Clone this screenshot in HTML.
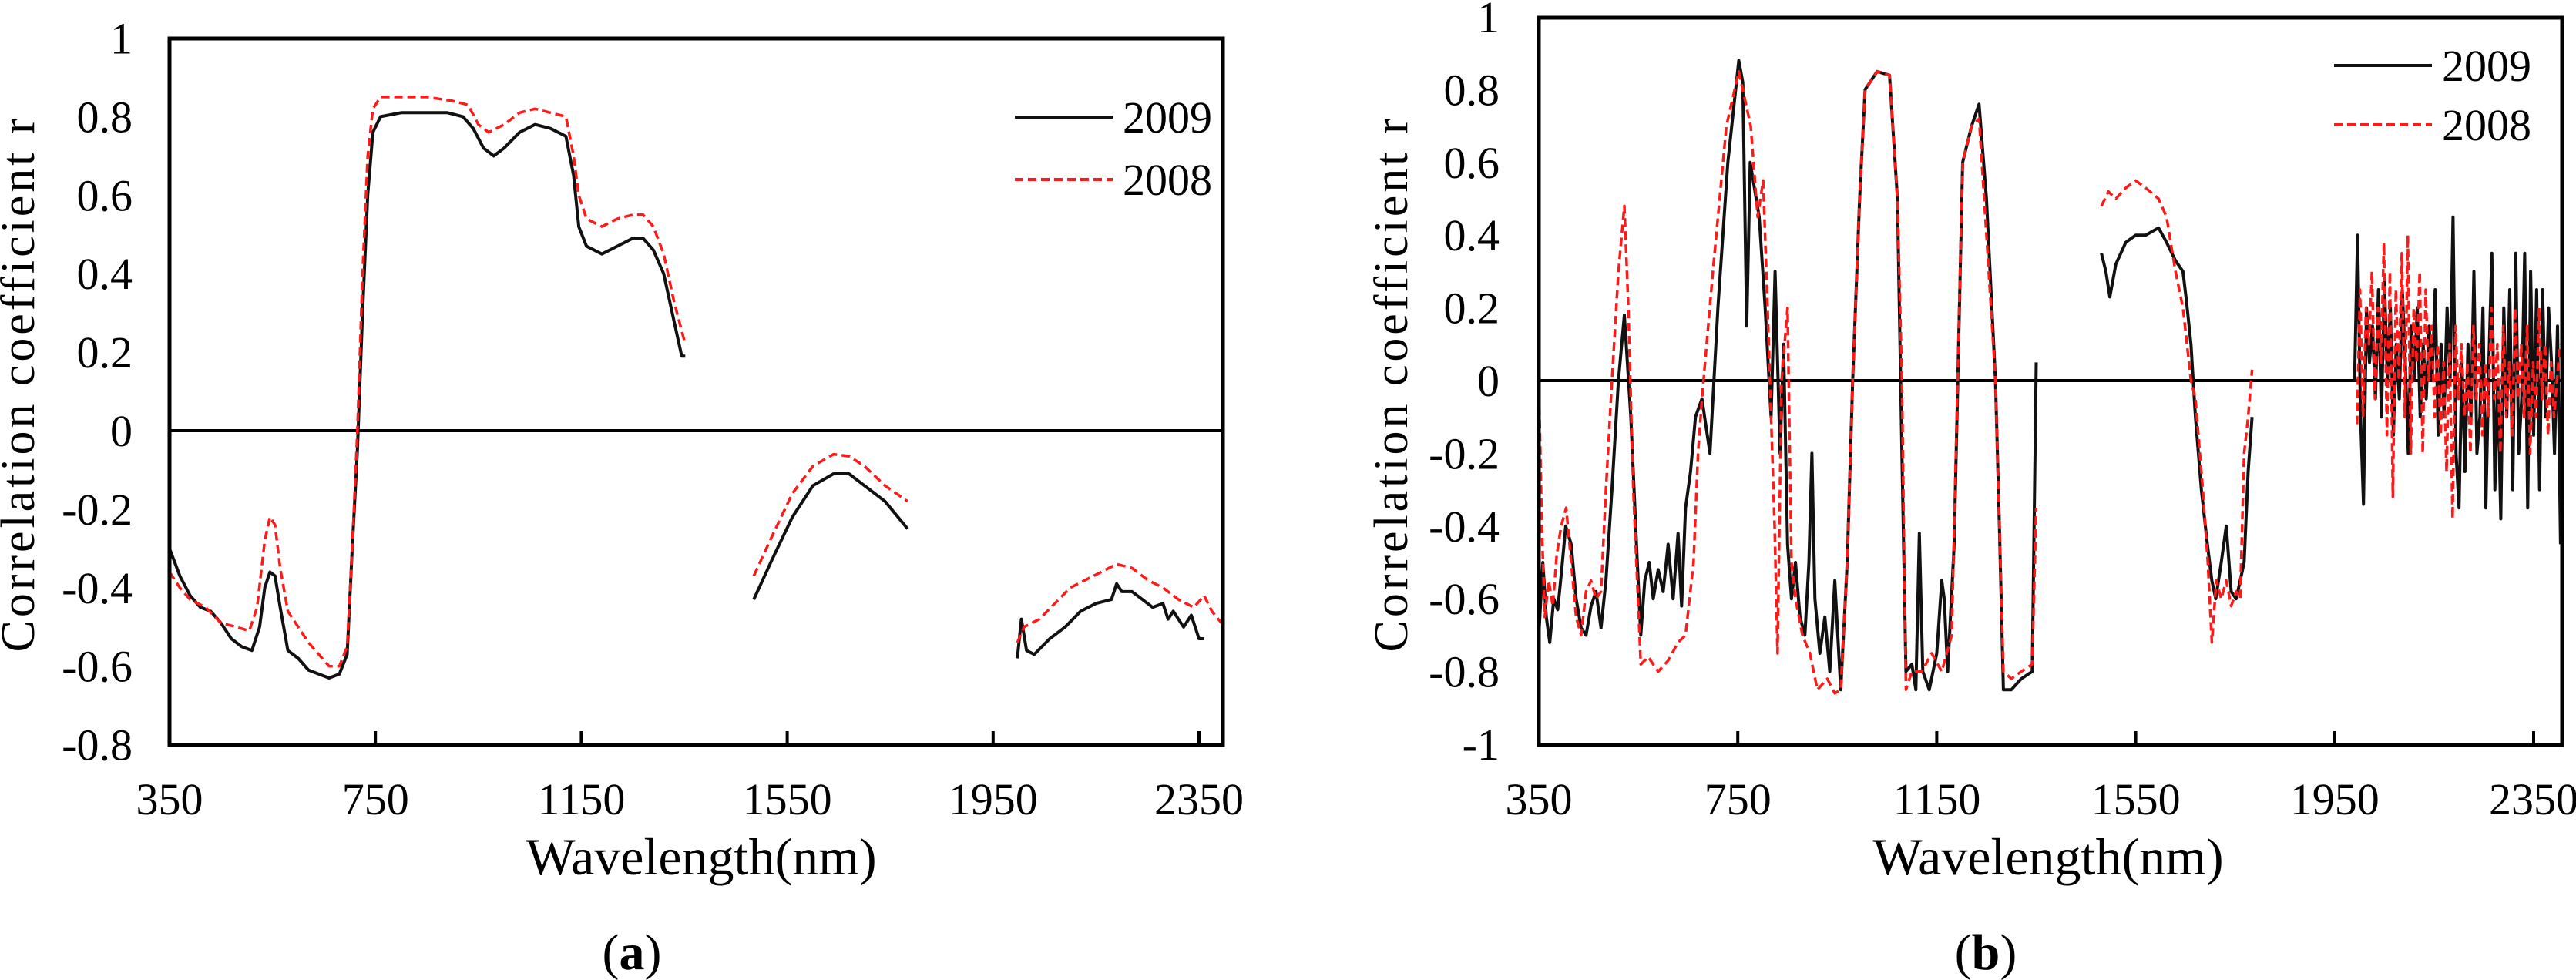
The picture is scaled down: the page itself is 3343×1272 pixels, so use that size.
<!DOCTYPE html>
<html><head><meta charset="utf-8"><style>
html,body{margin:0;padding:0;background:#fff}
svg{display:block}
svg text{font-family:"Liberation Serif","DejaVu Serif",serif;fill:#000}
</style></head><body>
<svg id="chart" width="3343" height="1272" viewBox="0 0 3343 1272" xmlns="http://www.w3.org/2000/svg" font-family="Liberation Serif, DejaVu Serif, serif">
<g id="pa"></g>
<g id="pb"></g>
</svg>
<script>
const xTicks = [350, 750, 1150, 1550, 1950, 2350];
const yTicksA = [1, 0.8, 0.6, 0.4, 0.2, 0, -0.2, -0.4, -0.6, -0.8];
const yTickLabelsA = ["1","0.8","0.6","0.4","0.2","0","-0.2","-0.4","-0.6","-0.8"];
const yTicksB = [1, 0.8, 0.6, 0.4, 0.2, 0, -0.2, -0.4, -0.6, -0.8, -1];
const yTickLabelsB = ["1","0.8","0.6","0.4","0.2","0","-0.2","-0.4","-0.6","-0.8","-1"];
const seriesNames = ["2009", "2008"];

const a09s1w = [350,370,390,410,430,450,470,490,510,525,535,545,555,565,580,600,620,640,660,680,695,705,715,725,735,745,760,800,850,890,920,940,960,980,1000,1030,1060,1090,1120,1135,1145,1160,1190,1220,1250,1270,1290,1310,1330,1345,1352];
const a09s1r = [-0.30,-0.37,-0.42,-0.45,-0.46,-0.49,-0.53,-0.55,-0.56,-0.50,-0.40,-0.36,-0.37,-0.45,-0.56,-0.58,-0.61,-0.62,-0.63,-0.62,-0.57,-0.30,-0.05,0.30,0.60,0.76,0.80,0.81,0.81,0.81,0.80,0.77,0.72,0.70,0.72,0.76,0.78,0.77,0.75,0.65,0.52,0.47,0.45,0.47,0.49,0.49,0.46,0.40,0.28,0.19,0.19];
const a08s1w = [350,370,390,420,450,480,505,520,535,545,555,565,580,600,620,640,660,680,695,705,715,725,735,745,760,800,850,900,930,950,970,1000,1030,1060,1090,1120,1135,1145,1160,1190,1220,1250,1270,1290,1310,1330,1352];
const a08s1r = [-0.36,-0.40,-0.43,-0.45,-0.49,-0.50,-0.51,-0.45,-0.28,-0.22,-0.24,-0.35,-0.46,-0.50,-0.54,-0.57,-0.60,-0.60,-0.55,-0.30,0.00,0.40,0.70,0.82,0.85,0.85,0.85,0.84,0.83,0.78,0.76,0.78,0.81,0.82,0.81,0.80,0.70,0.60,0.54,0.52,0.54,0.55,0.55,0.52,0.45,0.33,0.22];
const a09s2w = [1485,1520,1560,1600,1640,1670,1700,1740,1784];
const a09s2r = [-0.43,-0.33,-0.22,-0.14,-0.11,-0.11,-0.14,-0.18,-0.25];
const a08s2w = [1485,1520,1560,1600,1640,1670,1700,1740,1784];
const a08s2r = [-0.37,-0.27,-0.16,-0.09,-0.06,-0.065,-0.09,-0.14,-0.18];
const a09s3w = [1997,2005,2015,2030,2060,2090,2120,2150,2180,2190,2200,2220,2240,2260,2280,2290,2300,2320,2335,2350,2360];
const a09s3r = [-0.58,-0.48,-0.56,-0.57,-0.53,-0.50,-0.46,-0.44,-0.43,-0.39,-0.41,-0.41,-0.43,-0.45,-0.44,-0.48,-0.46,-0.50,-0.47,-0.53,-0.53];
const a08s3w = [1997,2010,2040,2070,2100,2130,2160,2190,2220,2250,2280,2310,2340,2360,2375,2400];
const a08s3r = [-0.54,-0.50,-0.48,-0.44,-0.40,-0.38,-0.36,-0.34,-0.35,-0.38,-0.40,-0.43,-0.45,-0.42,-0.46,-0.50];

const b09s1w = [350,358,365,372,380,388,396,404,415,425,435,445,455,465,475,485,497,510,522,535,548,555,563,572,580,590,600,610,620,630,637,645,655,665,678,694,710,730,752,760,768,775,793,805,817,825,835,842,850,858,866,875,885,893,899,905,915,925,935,945,957,970,981,995,1006,1030,1055,1071,1080,1088,1100,1108,1115,1122,1135,1150,1160,1165,1172,1185,1202,1220,1235,1250,1268,1276,1284,1300,1320,1342,1350];
const b09s1r = [-0.70,-0.50,-0.65,-0.72,-0.60,-0.63,-0.52,-0.40,-0.45,-0.60,-0.68,-0.70,-0.62,-0.58,-0.68,-0.55,-0.30,0.00,0.18,-0.10,-0.50,-0.70,-0.55,-0.50,-0.60,-0.52,-0.58,-0.45,-0.60,-0.42,-0.62,-0.35,-0.25,-0.10,-0.05,-0.20,0.20,0.60,0.88,0.82,0.15,0.60,0.45,0.20,-0.10,0.30,-0.20,0.10,-0.45,-0.60,-0.50,-0.65,-0.70,-0.50,-0.20,-0.60,-0.75,-0.65,-0.80,-0.55,-0.85,-0.50,0.00,0.50,0.80,0.85,0.84,0.50,-0.20,-0.80,-0.78,-0.85,-0.42,-0.80,-0.85,-0.75,-0.55,-0.60,-0.80,-0.45,0.60,0.70,0.76,0.50,0.00,-0.40,-0.85,-0.85,-0.82,-0.80,0.05];
const b08s1w = [350,356,362,370,378,386,395,405,415,425,435,445,455,465,475,485,497,510,522,530,540,555,570,590,610,630,645,661,670,678,700,727,752,776,790,801,810,817,824,830,838,850,858,866,880,895,910,930,945,957,970,981,995,1006,1030,1055,1071,1080,1088,1100,1120,1140,1160,1180,1202,1220,1235,1250,1268,1284,1300,1320,1342,1350];
const b08s1r = [0.00,-0.40,-0.65,-0.55,-0.62,-0.48,-0.40,-0.35,-0.50,-0.65,-0.70,-0.58,-0.55,-0.60,-0.58,-0.30,0.00,0.30,0.48,0.20,-0.30,-0.78,-0.76,-0.80,-0.77,-0.72,-0.70,-0.50,-0.20,-0.05,0.30,0.70,0.85,0.70,0.45,0.55,0.20,-0.10,-0.40,-0.75,0.00,0.20,-0.50,-0.60,-0.70,-0.75,-0.85,-0.82,-0.86,-0.85,-0.50,0.00,0.50,0.80,0.85,0.84,0.50,0.00,-0.85,-0.80,-0.80,-0.75,-0.80,-0.70,0.60,0.70,0.72,0.40,0.00,-0.80,-0.82,-0.80,-0.78,-0.35];
const b09s2w = [1481,1490,1498,1510,1530,1550,1570,1596,1612,1630,1645,1652,1661,1670,1682,1694,1703,1711,1722,1732,1742,1752,1760,1768,1776,1784];
const b09s2r = [0.35,0.30,0.23,0.32,0.38,0.40,0.40,0.42,0.38,0.33,0.30,0.22,0.10,-0.10,-0.30,-0.45,-0.55,-0.60,-0.50,-0.40,-0.58,-0.60,-0.55,-0.50,-0.25,-0.10];
const b08s2w = [1481,1495,1510,1530,1550,1570,1596,1612,1630,1645,1661,1670,1685,1695,1703,1712,1722,1732,1742,1752,1760,1768,1776,1784];
const b08s2r = [0.48,0.52,0.50,0.53,0.55,0.53,0.50,0.45,0.30,0.20,0.00,-0.05,-0.30,-0.50,-0.72,-0.55,-0.60,-0.55,-0.62,-0.58,-0.60,-0.20,-0.10,0.03];
const b09s3w = [1990,1996,2002,2008,2014,2020,2026,2032,2038,2044,2050,2056,2062,2068,2074,2080,2086,2092,2098,2104,2110,2116,2122,2128,2134,2140,2146,2152,2158,2164,2170,2176,2182,2188,2194,2200,2206,2212,2218,2224,2230,2236,2242,2248,2254,2260,2266,2272,2278,2284,2290,2296,2302,2308,2314,2320,2326,2332,2338,2344,2350,2356,2362,2368,2374,2380,2386,2392,2398,2404];
const b09s3r = [0.00,0.40,-0.10,-0.34,0.20,0.05,0.15,-0.05,0.25,-0.10,0.28,0.00,0.20,-0.15,0.10,-0.05,0.25,0.05,-0.20,0.15,0.00,0.20,-0.10,0.10,-0.05,0.15,0.00,0.25,-0.15,0.10,-0.10,0.20,0.00,0.45,-0.20,-0.35,0.05,-0.25,0.10,-0.10,0.30,-0.20,-0.10,0.20,-0.35,0.05,0.35,-0.30,0.00,-0.38,0.20,-0.10,0.25,-0.30,0.35,-0.20,-0.05,0.35,-0.35,0.30,-0.15,0.25,-0.30,0.25,-0.10,0.20,0.05,-0.20,0.15,-0.45];
const b08s3w = [1995,2001,2007,2013,2019,2025,2031,2037,2043,2049,2055,2061,2067,2073,2079,2085,2091,2097,2103,2109,2115,2121,2127,2133,2139,2145,2151,2157,2163,2169,2175,2181,2187,2193,2199,2205,2211,2217,2223,2229,2235,2241,2247,2253,2259,2265,2271,2277,2283,2289,2295,2301,2307,2313,2319,2325,2331,2337,2343,2349,2355,2361,2367,2373,2379,2385,2391,2397,2403];
const b08s3r = [-0.12,0.25,-0.10,0.20,0.10,0.30,-0.05,0.20,0.05,0.38,-0.15,0.30,-0.32,0.25,0.00,0.35,-0.10,0.40,-0.20,0.20,0.05,0.30,-0.20,0.25,0.00,0.15,-0.10,0.10,-0.15,0.05,-0.25,0.10,-0.38,0.15,-0.05,0.10,-0.10,0.05,-0.20,0.15,-0.05,0.10,-0.15,0.05,-0.10,0.20,-0.05,0.10,-0.20,0.15,-0.10,0.05,-0.15,0.20,-0.05,0.10,-0.10,0.15,-0.20,0.05,-0.10,0.20,-0.05,0.10,-0.15,0.05,-0.10,0.00,0.10];

const NS = "http://www.w3.org/2000/svg";
const FF = "Liberation Serif, DejaVu Serif, serif";
function mk(parent, tag, attrs, txt) {
  const e = document.createElementNS(NS, tag);
  for (const k in attrs) e.setAttribute(k, attrs[k]);
  if (tag === "text") e.setAttribute("font-family", FF);
  if (txt !== undefined) e.textContent = txt;
  parent.appendChild(e);
  return e;
}

function drawPanel(g, cfg) {
  const xs = v => cfg.left + (v - 350) * cfg.kx;
  const ys = v => cfg.y0 - v * cfg.ky;
  cfg.yT.forEach((v, i) => {
    const t = mk(g, "text", {x: cfg.ylabX, y: ys(v) + 20, "text-anchor": "end", "font-size": 58});
    t.textContent = cfg.yL[i];
    
    
  });
  xTicks.forEach(v => {
    const tk = mk(g, "line", {x1: xs(v), x2: xs(v), y1: cfg.bottom, y2: cfg.bottom - 18, stroke: "#000", "stroke-width": 4});
    
    
    const t = mk(g, "text", {x: xs(v), y: cfg.bottom + 90, "text-anchor": "middle", "font-size": 58});
    t.textContent = String(v);
    
    
  });
  const z = mk(g, "line", {x1: cfg.left, x2: cfg.right, y1: ys(0), y2: ys(0), stroke: "#000", "stroke-width": 4});
  
  
  cfg.series.forEach(s => {
    const d = s.w.map((w, i) => (i ? "L" : "M") + xs(w).toFixed(1) + "," + ys(s.r[i]).toFixed(1)).join(" ");
    const attrs = {d: d, fill: "none", stroke: s.red ? "#ff1a1a" : "#111", "stroke-width": s.red ? 3.5 : 4, "stroke-linejoin": "round"};
    if (s.red) attrs["stroke-dasharray"] = "11 6";
    const p = mk(g, "path", attrs);
    
    
  });
  const fr = mk(g, "rect", {x: cfg.left, y: cfg.top, width: cfg.right - cfg.left, height: cfg.bottom - cfg.top, fill: "none", stroke: "#000", "stroke-width": 5});
  
  
  [0, 1].forEach(i => {
    const ly = cfg.legY[i];
    const la = {x1: cfg.legX, x2: cfg.legX + 127, y1: ly, y2: ly, stroke: i ? "#ff1a1a" : "#111", "stroke-width": 4};
    if (i) la["stroke-dasharray"] = "11 6";
    const l = mk(g, "line", la);
    
    
    const t = mk(g, "text", {x: cfg.legX + 140, y: ly + 20, "font-size": 58});
    t.textContent = seriesNames[i];
    
    
  });
  const xt = mk(g, "text", {x: cfg.xtX, y: 1135, "text-anchor": "middle", "font-size": 68});
  xt.textContent = "Wavelength(nm)";
  
  
  const yt = mk(g, "text", {x: 0, y: 0, "text-anchor": "middle", "font-size": 62, transform: "translate(" + cfg.ytX + ",500) rotate(-90)", textLength: 693, lengthAdjust: "spacing"});
  yt.textContent = "Correlation  coefficient  r";
  
  
  const cap = mk(g, "text", {x: cfg.capX, y: 1258, "text-anchor": "middle", "font-size": 66});
  mk(cap, "tspan", {}, "(");
  mk(cap, "tspan", {"font-weight": "bold"}, cfg.cap);
  mk(cap, "tspan", {}, ")");
  
  
}

drawPanel(document.getElementById("pa"), {
  left: 220, right: 1587, top: 50, bottom: 967, kx: 0.668, y0: 559, ky: 509.5,
  yT: yTicksA, yL: yTickLabelsA, ylabX: 172, legX: 1317, legY: [152, 233], xtX: 910, ytX: 44, capX: 820, cap: "a",
  series: [
    {name: "series-2009-seg1", w: a09s1w, r: a09s1r}, {name: "series-2008-seg1", w: a08s1w, r: a08s1r, red: 1},
    {name: "series-2009-seg2", w: a09s2w, r: a09s2r}, {name: "series-2008-seg2", w: a08s2w, r: a08s2r, red: 1},
    {name: "series-2009-seg3", w: a09s3w, r: a09s3r}, {name: "series-2008-seg3", w: a08s3w, r: a08s3r, red: 1}
  ]
});
drawPanel(document.getElementById("pb"), {
  left: 1997, right: 3325, top: 23, bottom: 967, kx: 0.6455, y0: 494, ky: 472,
  yT: yTicksB, yL: yTickLabelsB, ylabX: 1946, legX: 3029, legY: [85, 162], xtX: 2658, ytX: 1826, capX: 2577, cap: "b",
  series: [
    {name: "series-2009-seg1", w: b09s1w, r: b09s1r}, {name: "series-2008-seg1", w: b08s1w, r: b08s1r, red: 1},
    {name: "series-2009-seg2", w: b09s2w, r: b09s2r}, {name: "series-2008-seg2", w: b08s2w, r: b08s2r, red: 1},
    {name: "series-2009-seg3", w: b09s3w, r: b09s3r}, {name: "series-2008-seg3", w: b08s3w, r: b08s3r, red: 1}
  ]
});
</script>
</body></html>
